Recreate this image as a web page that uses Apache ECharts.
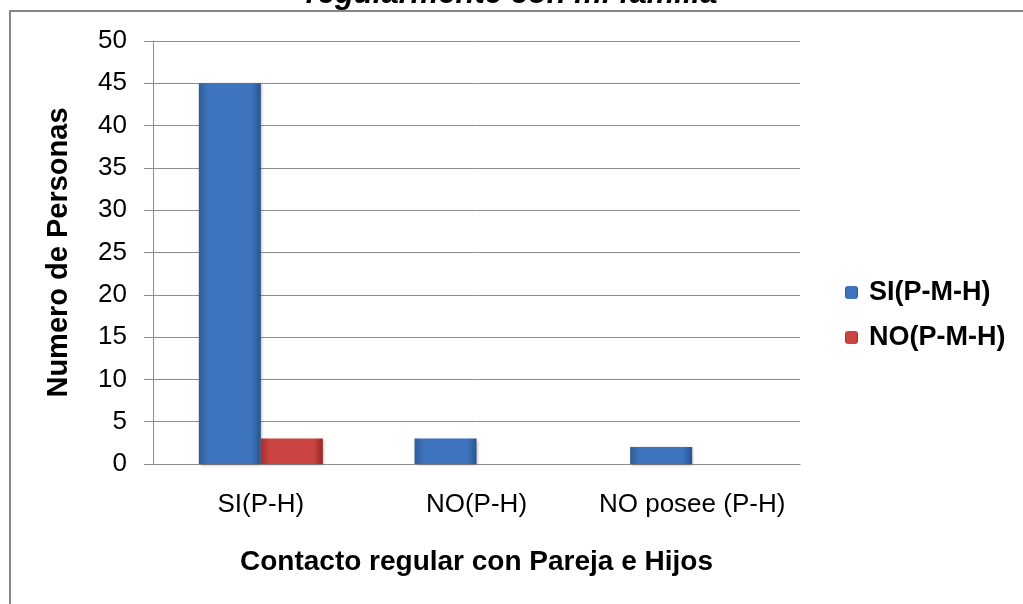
<!DOCTYPE html>
<html>
<head>
<meta charset="utf-8">
<script src="https://cdn.jsdelivr.net/npm/echarts@6/dist/echarts.min.js"></script>
<style>
  html, body { margin: 0; padding: 0; background: #fff; }
  #chart { width: 1023px; height: 604px; }
</style>
</head>
<body>
<div id="chart"></div>
<script>
var categories = ['SI(P-H)', 'NO(P-H)', 'NO posee (P-H)']
var siValues = [45, 3, 2]
var noValues = [3, 0, 0]
var seriesNames = ['SI(P-M-H)', 'NO(P-M-H)']

var font = "'Liberation Sans', Arial, sans-serif"

function barColor(left, mid, right) {
  return new echarts.graphic.LinearGradient(0, 0, 1, 0, [
    { offset: 0, color: left },
    { offset: 0.15, color: mid },
    { offset: 0.85, color: mid },
    { offset: 1, color: right }
  ])
}

var myChart = echarts.init(document.getElementById('chart'))
var option = {
  animation: false,
  backgroundColor: '#fff',
  title: {
    text: 'regularmente con mi familia',
    left: 'center',
    top: -26,
    textStyle: {
      fontFamily: font,
      fontSize: 31,
      fontWeight: 'bold',
      fontStyle: 'italic',
      color: '#000'
    }
  },
  graphic: [
    {
      type: 'rect',
      shape: { x: 10, y: 11, width: 1100, height: 700 },
      style: { fill: 'none', stroke: '#868686', lineWidth: 2 },
      z: -1
    }
  ],
  legend: {
    orient: 'vertical',
    left: 840,
    top: 274,
    itemWidth: 13,
    itemHeight: 13,
    itemGap: 18,
    data: seriesNames,
    textStyle: {
      fontFamily: font,
      fontSize: 27,
      fontWeight: 'bold',
      color: '#000',
      padding: [0, 0, 0, 6]
    }
  },
  grid: {
    left: 153,
    right: 223,
    top: 41,
    bottom: 140
  },
  xAxis: {
    type: 'category',
    data: categories,
    name: 'Contacto regular con Pareja e Hijos',
    nameLocation: 'middle',
    nameGap: 84,
    nameTextStyle: {
      fontFamily: font,
      fontSize: 28,
      fontWeight: 'bold',
      color: '#000'
    },
    axisLine: { lineStyle: { color: '#8e8e8e', width: 1 } },
    axisTick: { show: false },
    axisLabel: {
      interval: 0,
      margin: 28,
      fontFamily: font,
      fontSize: 26,
      color: '#000'
    }
  },
  yAxis: {
    type: 'value',
    min: 0,
    max: 50,
    interval: 5,
    name: 'Numero de Personas',
    nameLocation: 'middle',
    nameGap: 80,
    nameTextStyle: {
      fontFamily: font,
      fontSize: 29,
      fontWeight: 'bold',
      color: '#000'
    },
    axisLine: { show: true, lineStyle: { color: '#8e8e8e', width: 1 } },
    axisTick: { show: true, length: 9, lineStyle: { color: '#8e8e8e' } },
    splitLine: { lineStyle: { color: '#8e8e8e', width: 1 } },
    axisLabel: {
      margin: 26,
      fontFamily: font,
      fontSize: 26,
      color: '#000'
    }
  },
  series: [
    {
      name: seriesNames[0],
      type: 'bar',
      barWidth: 62,
      barGap: '0%',
      data: siValues,
      itemStyle: {
        color: barColor('#2f5c98', '#3e74bd', '#2a548c'),
        shadowBlur: 3,
        shadowColor: 'rgba(0,0,0,0.3)',
        shadowOffsetX: 1,
        shadowOffsetY: 1
      }
    },
    {
      name: seriesNames[1],
      type: 'bar',
      barWidth: 62,
      barGap: '0%',
      data: noValues,
      itemStyle: {
        color: barColor('#a62e2c', '#cc4442', '#9a2927'),
        shadowBlur: 3,
        shadowColor: 'rgba(0,0,0,0.3)',
        shadowOffsetX: 1,
        shadowOffsetY: 1
      }
    }
  ]
}
myChart.setOption(option)
</script>
</body>
</html>
